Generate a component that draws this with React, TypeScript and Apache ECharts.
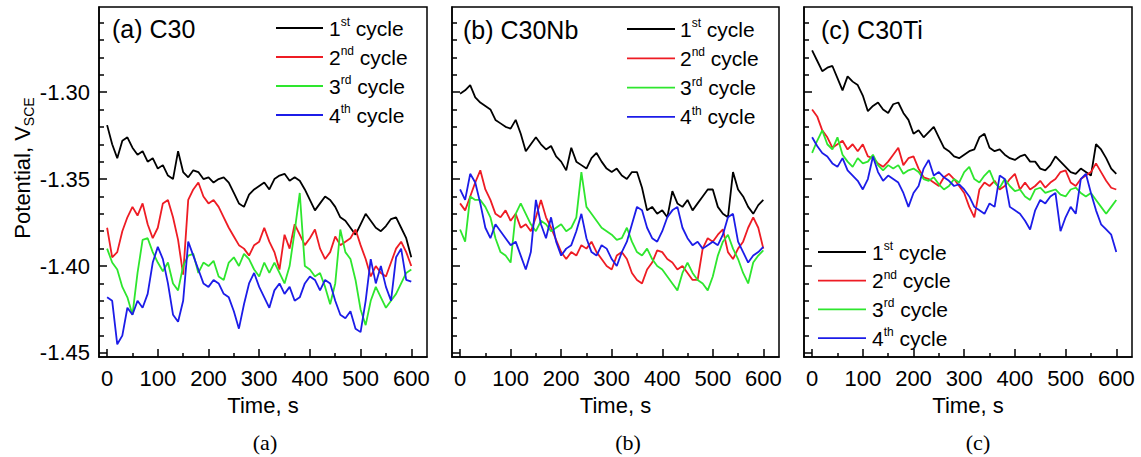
import React, { useEffect, useRef } from 'react';
import * as echarts from 'echarts';

// ---------- data ----------
const TIME = [
  0, 10, 20, 30, 40, 50, 60, 70, 80, 90,
  100, 110, 120, 130, 140, 150, 160, 170, 180, 190,
  200, 210, 220, 230, 240, 250, 260, 270, 280, 290,
  300, 310, 320, 330, 340, 350, 360, 370, 380, 390,
  400, 410, 420, 430, 440, 450, 460, 470, 480, 490,
  500, 510, 520, 530, 540, 550, 560, 570, 580, 590,
  600,
];

// (a) C30
const C30_CYCLE1 = [
  -1.319, -1.330, -1.338, -1.328, -1.326, -1.332, -1.336, -1.334, -1.340, -1.338,
  -1.344, -1.342, -1.348, -1.350, -1.334, -1.346, -1.349, -1.345, -1.346, -1.350,
  -1.349, -1.352, -1.350, -1.349, -1.352, -1.358, -1.364, -1.366, -1.359, -1.356,
  -1.354, -1.352, -1.356, -1.350, -1.348, -1.347, -1.351, -1.349, -1.351, -1.356,
  -1.362, -1.368, -1.364, -1.360, -1.362, -1.366, -1.372, -1.374, -1.378, -1.382,
  -1.376, -1.370, -1.374, -1.378, -1.380, -1.377, -1.373, -1.372, -1.378, -1.384,
  -1.395,
];
const C30_CYCLE2 = [
  -1.378, -1.395, -1.392, -1.380, -1.372, -1.366, -1.371, -1.364, -1.376, -1.384,
  -1.378, -1.364, -1.362, -1.372, -1.385, -1.405, -1.362, -1.356, -1.352, -1.360,
  -1.364, -1.362, -1.366, -1.372, -1.378, -1.383, -1.388, -1.390, -1.394, -1.388,
  -1.386, -1.378, -1.386, -1.392, -1.402, -1.382, -1.390, -1.376, -1.382, -1.388,
  -1.384, -1.379, -1.390, -1.396, -1.392, -1.383, -1.388, -1.386, -1.384, -1.379,
  -1.388, -1.396, -1.406, -1.400, -1.404, -1.406, -1.398, -1.390, -1.386, -1.392,
  -1.400,
];
const C30_CYCLE3 = [
  -1.390, -1.398, -1.402, -1.412, -1.418, -1.428, -1.404, -1.385, -1.384, -1.392,
  -1.398, -1.403, -1.398, -1.410, -1.414, -1.400, -1.394, -1.393, -1.404, -1.398,
  -1.400, -1.397, -1.406, -1.408, -1.398, -1.395, -1.400, -1.393, -1.396, -1.402,
  -1.406, -1.398, -1.404, -1.398, -1.404, -1.410, -1.400, -1.380, -1.358, -1.400,
  -1.402, -1.406, -1.404, -1.412, -1.422, -1.410, -1.379, -1.392, -1.396, -1.408,
  -1.425, -1.434, -1.420, -1.412, -1.418, -1.424, -1.420, -1.416, -1.410, -1.404,
  -1.402,
];
const C30_CYCLE4 = [
  -1.418, -1.420, -1.445, -1.440, -1.424, -1.428, -1.420, -1.424, -1.416, -1.398,
  -1.389, -1.396, -1.410, -1.428, -1.432, -1.420, -1.386, -1.394, -1.402, -1.410,
  -1.412, -1.408, -1.410, -1.416, -1.418, -1.426, -1.436, -1.422, -1.410, -1.404,
  -1.412, -1.418, -1.424, -1.414, -1.410, -1.416, -1.412, -1.420, -1.418, -1.410,
  -1.406, -1.408, -1.414, -1.408, -1.410, -1.420, -1.428, -1.430, -1.426, -1.436,
  -1.438, -1.420, -1.396, -1.410, -1.400, -1.412, -1.420, -1.395, -1.390, -1.408,
  -1.409,
];

// (b) C30Nb
const C30NB_CYCLE1 = [
  -1.301, -1.299, -1.296, -1.303, -1.306, -1.308, -1.310, -1.316, -1.318, -1.320,
  -1.321, -1.316, -1.324, -1.334, -1.330, -1.326, -1.330, -1.333, -1.331, -1.337,
  -1.340, -1.345, -1.332, -1.340, -1.342, -1.344, -1.338, -1.335, -1.340, -1.344,
  -1.346, -1.344, -1.348, -1.350, -1.346, -1.346, -1.355, -1.368, -1.366, -1.370,
  -1.368, -1.372, -1.357, -1.364, -1.366, -1.362, -1.368, -1.364, -1.360, -1.356,
  -1.356, -1.366, -1.370, -1.372, -1.346, -1.356, -1.360, -1.366, -1.370, -1.365,
  -1.362,
];
const C30NB_CYCLE2 = [
  -1.364, -1.368, -1.360, -1.352, -1.345, -1.356, -1.362, -1.370, -1.372, -1.368,
  -1.374, -1.370, -1.378, -1.376, -1.380, -1.372, -1.362, -1.372, -1.378, -1.385,
  -1.392, -1.396, -1.392, -1.394, -1.388, -1.390, -1.386, -1.392, -1.396, -1.400,
  -1.402, -1.394, -1.392, -1.396, -1.404, -1.408, -1.410, -1.402, -1.398, -1.391,
  -1.392, -1.396, -1.398, -1.402, -1.400, -1.404, -1.408, -1.408, -1.390, -1.384,
  -1.386, -1.382, -1.379, -1.392, -1.396, -1.390, -1.386, -1.378, -1.372, -1.378,
  -1.390,
];
const C30NB_CYCLE3 = [
  -1.379, -1.386, -1.360, -1.362, -1.362, -1.366, -1.372, -1.384, -1.392, -1.394,
  -1.398, -1.370, -1.364, -1.370, -1.376, -1.380, -1.374, -1.376, -1.380, -1.378,
  -1.376, -1.380, -1.378, -1.372, -1.346, -1.366, -1.370, -1.374, -1.378, -1.380,
  -1.382, -1.385, -1.384, -1.378, -1.386, -1.392, -1.394, -1.390, -1.396, -1.400,
  -1.402, -1.406, -1.410, -1.414, -1.404, -1.398, -1.404, -1.408, -1.410, -1.414,
  -1.406, -1.394, -1.386, -1.382, -1.390, -1.396, -1.404, -1.410, -1.398, -1.394,
  -1.391,
];
const C30NB_CYCLE4 = [
  -1.356, -1.362, -1.347, -1.352, -1.364, -1.378, -1.384, -1.376, -1.380, -1.384,
  -1.388, -1.386, -1.394, -1.402, -1.392, -1.362, -1.376, -1.384, -1.372, -1.386,
  -1.394, -1.390, -1.388, -1.380, -1.370, -1.384, -1.392, -1.394, -1.388, -1.390,
  -1.396, -1.400, -1.392, -1.386, -1.376, -1.366, -1.368, -1.378, -1.384, -1.386,
  -1.380, -1.372, -1.368, -1.366, -1.378, -1.384, -1.388, -1.386, -1.390, -1.388,
  -1.386, -1.388, -1.382, -1.372, -1.370, -1.386, -1.392, -1.398, -1.394, -1.392,
  -1.389,
];

// (c) C30Ti
const C30TI_CYCLE1 = [
  -1.276, -1.282, -1.288, -1.286, -1.285, -1.292, -1.299, -1.291, -1.294, -1.296,
  -1.302, -1.311, -1.308, -1.306, -1.310, -1.312, -1.307, -1.306, -1.312, -1.316,
  -1.324, -1.322, -1.326, -1.323, -1.320, -1.326, -1.332, -1.334, -1.337, -1.338,
  -1.336, -1.334, -1.333, -1.326, -1.324, -1.332, -1.334, -1.333, -1.336, -1.338,
  -1.339, -1.337, -1.336, -1.340, -1.340, -1.344, -1.345, -1.342, -1.337, -1.340,
  -1.343, -1.346, -1.347, -1.344, -1.346, -1.348, -1.330, -1.333, -1.338, -1.344,
  -1.347,
];
const C30TI_CYCLE2 = [
  -1.310, -1.314, -1.322, -1.326, -1.332, -1.330, -1.328, -1.333, -1.330, -1.334,
  -1.330, -1.337, -1.338, -1.341, -1.343, -1.340, -1.336, -1.332, -1.342, -1.338,
  -1.337, -1.344, -1.349, -1.350, -1.352, -1.354, -1.349, -1.347, -1.350, -1.354,
  -1.358, -1.366, -1.372, -1.356, -1.352, -1.354, -1.351, -1.356, -1.354, -1.350,
  -1.347, -1.356, -1.352, -1.356, -1.354, -1.351, -1.355, -1.352, -1.350, -1.346,
  -1.345, -1.352, -1.354, -1.350, -1.348, -1.346, -1.341, -1.346, -1.351, -1.355,
  -1.356,
];
const C30TI_CYCLE3 = [
  -1.335, -1.328, -1.322, -1.330, -1.333, -1.326, -1.336, -1.340, -1.343, -1.338,
  -1.341, -1.340, -1.336, -1.342, -1.345, -1.342, -1.344, -1.342, -1.347, -1.345,
  -1.344, -1.346, -1.350, -1.351, -1.349, -1.353, -1.356, -1.354, -1.350, -1.352,
  -1.346, -1.343, -1.350, -1.352, -1.348, -1.345, -1.352, -1.355, -1.350, -1.354,
  -1.357, -1.356, -1.360, -1.362, -1.356, -1.355, -1.358, -1.357, -1.356, -1.359,
  -1.360, -1.356, -1.355, -1.358, -1.360, -1.358, -1.362, -1.366, -1.370, -1.366,
  -1.362,
];
const C30TI_CYCLE4 = [
  -1.326, -1.331, -1.335, -1.337, -1.341, -1.343, -1.338, -1.345, -1.348, -1.351,
  -1.356, -1.350, -1.337, -1.346, -1.351, -1.348, -1.350, -1.352, -1.358, -1.366,
  -1.358, -1.354, -1.344, -1.339, -1.348, -1.346, -1.349, -1.351, -1.354, -1.353,
  -1.356, -1.360, -1.366, -1.368, -1.370, -1.364, -1.366, -1.348, -1.350, -1.366,
  -1.368, -1.370, -1.374, -1.379, -1.368, -1.362, -1.364, -1.360, -1.358, -1.380,
  -1.372, -1.366, -1.370, -1.350, -1.347, -1.358, -1.368, -1.376, -1.379, -1.382,
  -1.392,
];

const PANEL_TITLES = ['(a) C30', '(b) C30Nb', '(c) C30Ti'];
const CAPTIONS = ['(a)', '(b)', '(c)'];
const CYCLE_NUMBERS = ['1', '2', '3', '4'];
const CYCLE_SUFFIXES = ['st', 'nd', 'rd', 'th'];
const X_MAJOR = [0, 100, 200, 300, 400, 500, 600];
const X_MINOR = [50, 150, 250, 350, 450, 550];
const Y_MAJOR = [-1.45, -1.4, -1.35, -1.3];
const Y_MINOR = [
  -1.44, -1.43, -1.42, -1.41, -1.39, -1.38, -1.37, -1.36,
  -1.34, -1.33, -1.32, -1.31, -1.29, -1.28, -1.27, -1.26,
];
const X_NAME = 'Time, s';

const PANEL_DATA = [
  [C30_CYCLE1, C30_CYCLE2, C30_CYCLE3, C30_CYCLE4],
  [C30NB_CYCLE1, C30NB_CYCLE2, C30NB_CYCLE3, C30NB_CYCLE4],
  [C30TI_CYCLE1, C30TI_CYCLE2, C30TI_CYCLE3, C30TI_CYCLE4],
];

// ---------- styling / layout ----------
const COLORS = ['#000000', '#ee1c24', '#2ee62e', '#1c1ce8'];
const FONT = '"Liberation Sans", Arial, Helvetica, sans-serif';
const SERIF = '"Liberation Serif", "Times New Roman", serif';
const X_MIN = -16;
const X_MAX = 631;
const Y_MIN = -1.4523;
const Y_MAX = -1.2511;

const GRIDS = [
  { left: 99, top: 7, width: 328, height: 350 },
  { left: 452, top: 7, width: 327, height: 350 },
  { left: 804, top: 7, width: 328, height: 350 },
];
const TITLE_POS = [
  { x: 112, y: 29 },
  { x: 463, y: 30 },
  { x: 821, y: 30 },
];
// legend: line start x, line end x, text x, first row y, row step
const LEGEND_POS = [
  { x1: 276, x2: 323, tx: 329, y: 28, dy: 29 },
  { x1: 627, x2: 675, tx: 680, y: 29, dy: 29.3 },
  { x1: 818, x2: 866, tx: 872, y: 252, dy: 28.7 },
];
const CAPTION_POS = [
  { x: 265, y: 442 },
  { x: 628, y: 442 },
  { x: 978, y: 442 },
];

const black = '#000';
const axisLineStyle = { color: black, width: 1.5 };

export default function App() {
  const ref = useRef<HTMLDivElement>(null);

  useEffect(() => {
    if (!ref.current) return;
    const chart = echarts.init(ref.current, null, { renderer: 'svg' });

    const grid = GRIDS.map((g) => ({
      ...g,
      show: true,
      borderColor: black,
      borderWidth: 1.5,
      backgroundColor: 'transparent',
      containLabel: false,
      outerBoundsMode: 'none',
    }));

    const xAxis: any[] = [];
    const yAxis: any[] = [];
    for (let i = 0; i < 3; i++) {
      xAxis.push({
        type: 'value',
        gridIndex: i,
        min: X_MIN,
        max: X_MAX,
        position: 'bottom',
        axisLine: { show: true, onZero: false, lineStyle: axisLineStyle },
        axisTick: { show: true, inside: true, length: 8, customValues: X_MAJOR, lineStyle: axisLineStyle },
        axisLabel: {
          show: true,
          customValues: X_MAJOR,
          margin: 10,
          fontSize: 22,
          fontFamily: FONT,
          color: black,
        },
        splitLine: { show: false },
        name: X_NAME,
        nameLocation: 'middle',
        nameGap: 37,
        nameTextStyle: { fontSize: 22, fontFamily: FONT, color: black },
      });
      yAxis.push({
        type: 'value',
        gridIndex: i,
        min: Y_MIN,
        max: Y_MAX,
        position: 'left',
        axisLine: { show: true, onZero: false, lineStyle: axisLineStyle },
        axisTick: { show: true, inside: true, length: 8, customValues: Y_MAJOR, lineStyle: axisLineStyle },
        axisLabel: {
          show: i === 0,
          customValues: Y_MAJOR,
          margin: 9,
          fontSize: 22,
          fontFamily: FONT,
          color: black,
          formatter: (v: number) => v.toFixed(2),
        },
        splitLine: { show: false },
        ...(i === 0
          ? {
              name: '{a|Potential, V}{s|SCE}',
              nameLocation: 'middle',
              nameRotate: 90,
              nameGap: 62,
              nameTextStyle: {
                color: black,
                fontFamily: FONT,
                padding: [0, 0, 0, 28],
                rich: {
                  a: { fontSize: 22, fontFamily: FONT, color: black, lineHeight: 26, verticalAlign: 'middle' },
                  s: { fontSize: 14, fontFamily: FONT, color: black, lineHeight: 14, verticalAlign: 'bottom' },
                },
              },
            }
          : {}),
      });
    }
    // minor-tick axes
    for (let i = 0; i < 3; i++) {
      xAxis.push({
        type: 'value',
        gridIndex: i,
        min: X_MIN,
        max: X_MAX,
        position: 'bottom',
        axisLine: { show: false, onZero: false },
        axisTick: { show: true, inside: true, length: 4, customValues: X_MINOR, lineStyle: axisLineStyle },
        axisLabel: { show: false },
        splitLine: { show: false },
      });
      yAxis.push({
        type: 'value',
        gridIndex: i,
        min: Y_MIN,
        max: Y_MAX,
        position: 'left',
        axisLine: { show: false, onZero: false },
        axisTick: { show: true, inside: true, length: 5, customValues: Y_MINOR, lineStyle: axisLineStyle },
        axisLabel: { show: false },
        splitLine: { show: false },
      });
    }

    const series: any[] = [];
    PANEL_DATA.forEach((cycles, p) => {
      cycles.forEach((vals, k) => {
        series.push({
          type: 'line',
          name: `${PANEL_TITLES[p]} ${CYCLE_NUMBERS[k]}${CYCLE_SUFFIXES[k]} cycle`,
          xAxisIndex: p,
          yAxisIndex: p,
          data: TIME.map((t, idx) => [t, vals[idx]]),
          showSymbol: false,
          symbol: 'none',
          silent: true,
          lineStyle: { color: COLORS[k], width: 1.8 },
          itemStyle: { color: COLORS[k] },
          z: 2 + k,
        });
      });
    });

    const graphic: any[] = [];
    for (let p = 0; p < 3; p++) {
      graphic.push({
        type: 'text',
        x: TITLE_POS[p].x,
        y: TITLE_POS[p].y,
        style: {
          text: PANEL_TITLES[p],
          fontSize: 25,
          fontFamily: FONT,
          fill: black,
          align: 'left',
          verticalAlign: 'middle',
        },
      });
      const L = LEGEND_POS[p];
      for (let k = 0; k < 4; k++) {
        const y = L.y + k * L.dy;
        graphic.push({
          type: 'line',
          shape: { x1: L.x1, y1: y, x2: L.x2, y2: y },
          style: { stroke: COLORS[k], lineWidth: 1.8 },
        });
        graphic.push({
          type: 'text',
          x: L.tx,
          y,
          style: {
            text: `{n|${CYCLE_NUMBERS[k]}}{s|${CYCLE_SUFFIXES[k]}}{n| cycle}`,
            align: 'left',
            verticalAlign: 'middle',
            rich: {
              n: { fontSize: 21, fontFamily: FONT, fill: black, lineHeight: 24, verticalAlign: 'middle' },
              s: { fontSize: 12, fontFamily: FONT, fill: black, lineHeight: 12, verticalAlign: 'top' },
            },
          },
        });
      }
      graphic.push({
        type: 'text',
        x: CAPTION_POS[p].x,
        y: CAPTION_POS[p].y,
        style: {
          text: CAPTIONS[p],
          fontSize: 22,
          fontFamily: SERIF,
          fill: black,
          align: 'center',
          verticalAlign: 'middle',
        },
      });
    }

    chart.setOption({
      animation: false,
      backgroundColor: '#fff',
      textStyle: { fontFamily: FONT },
      grid,
      xAxis,
      yAxis,
      series,
      graphic,
    });

    return () => chart.dispose();
  }, []);

  return (
    <div
      ref={ref}
      style={{ position: 'absolute', left: 0, top: 0, width: 1141, height: 457, background: '#fff' }}
    />
  );
}
